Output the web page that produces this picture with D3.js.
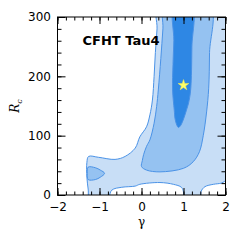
<!DOCTYPE html>
<html>
<head>
<meta charset="utf-8">
<script src="https://cdn.jsdelivr.net/npm/d3@7"></script>
<style>
  body { margin: 0; background: #fff; }
  text { font-family: "DejaVu Sans", sans-serif; }
</style>
</head>
<body>
<script>
// data (gamma, Rc)
var gammaTicks = [-2, -1, 0, 1, 2];
var rcTicks = [0, 100, 200, 300];
var gammaMinor = d3.range(-2, 2.01, 0.2);
var rcMinor = d3.range(0, 301, 20);

var outerContour = [[0.40,320],[2.15,320],[2.15,30],[1.98,23],[1.9,20],[1.71,18],[1.51,14],[1.42,6],
  [1.39,-15],[1.02,-15],[1.0,5],[0.95,13],[0.76,18],[0.44,21],[-0.04,18],[-0.15,15],[-0.47,13],
  [-0.71,8],[-0.83,-15],[-1.22,-15],[-1.27,10],[-1.3,30],[-1.3,55],[-1.26,65],[-1.02,63.5],
  [-0.63,60],[-0.39,65],[-0.15,79],[-0.04,98],[0.12,115],[0.2,135],[0.26,160],[0.3,200],
  [0.33,240],[0.37,280]];
var middleContour = [[0.55,320],[1.63,320],[1.62,240],[1.6,180],[1.55,140],[1.47,100],[1.38,73],
  [1.23,56],[1.0,45],[0.44,39],[0.12,42],[0.0,48],[0.02,58],[0.05,68],[0.12,82],[0.2,93],
  [0.3,121],[0.36,149],[0.40,177],[0.46,230],[0.51,280]];
var blobContour = [[-1.27,47],[-1.1,46],[-0.98,42],[-0.88,36.5],[-0.98,30],[-1.1,26],[-1.27,26],[-1.29,36]];
var innerContour = [[0.78,320],[1.2,320],[1.2,250],[1.17,177],[1.12,155],[1.07,143],[0.99,126],
  [0.92,116],[0.875,114],[0.84,118],[0.8,128],[0.78,143],[0.74,177],[0.75,220],[0.77,260]];
var bestFit = [1.0, 185];

var W = 240, H = 240;
var m = {left: 57.5, right: 14.5, top: 17, bottom: 45};

var svg = d3.select('body').append('svg')
    .attr('width', W)
    .attr('height', H);

var x = d3.scaleLinear().domain([-2, 2]).range([m.left, W - m.right]);
var y = d3.scaleLinear().domain([0, 300]).range([H - m.bottom, m.top]);

svg.append('clipPath').attr('id', 'plot')
  .append('rect')
    .attr('x', x(-2)).attr('y', y(300))
    .attr('width', x(2) - x(-2)).attr('height', y(0) - y(300));

var line = d3.line()
    .x(function(d) { return x(d[0]); })
    .y(function(d) { return y(d[1]); })
    .curve(d3.curveCatmullRomClosed.alpha(0.5));

var g = svg.append('g').attr('clip-path', 'url(#plot)');

var layers = [
  { pts: outerContour, fill: '#c8def6' },
  { pts: middleContour, fill: '#95c2f1' },
  { pts: blobContour, fill: '#95c2f1' },
  { pts: innerContour, fill: '#2e87e4' }
];
layers.forEach(function(l) {
  g.append('path')
    .attr('d', line(l.pts))
    .style('fill', l.fill)
    .style('stroke', '#4a92e6')
    .style('stroke-width', 1);
});

svg.append('path')
    .attr('d', d3.symbol().type(d3.symbolStar).size(36)())
    .attr('transform', 'translate(' + x(bestFit[0]) + ',' + y(bestFit[1]) + ')')
    .style('fill', '#ffff66')
    .style('stroke', '#f2e85a')
    .style('stroke-width', 0.5);

// axes: ticks point inward on all four sides
function ticks(axis, vals, size, pos, label) {
  var a = axis.tickValues(vals).tickSize(-size);
  if (!label) a.tickFormat('');
  var sel = svg.append('g').attr('transform', pos).call(a);
  sel.select('.domain').remove();
  sel.selectAll('line').style('stroke', '#000');
  return sel;
}
var bx = 'translate(0,' + y(0) + ')', tx = 'translate(0,' + y(300) + ')';
var ly = 'translate(' + x(-2) + ',0)', ry = 'translate(' + x(2) + ',0)';

ticks(d3.axisBottom(x), gammaMinor, 3.5, bx, false);
ticks(d3.axisTop(x), gammaMinor, 3.5, tx, false);
ticks(d3.axisLeft(y), rcMinor, 4, ly, false);
ticks(d3.axisRight(y), rcMinor, 4, ry, false);

ticks(d3.axisBottom(x).tickPadding(7).tickFormat(d3.format('d')), gammaTicks, 7, bx, true);
ticks(d3.axisTop(x), gammaTicks, 7, tx, false);
ticks(d3.axisLeft(y).tickPadding(6.5).tickFormat(d3.format('d')), rcTicks, 8, ly, true);
ticks(d3.axisRight(y), rcTicks, 8, ry, false);

svg.selectAll('.tick text')
    .style('font-family', '"DejaVu Sans", sans-serif')
    .style('font-size', '12px')
    .style('fill', '#000');

svg.append('rect')
    .attr('x', x(-2)).attr('y', y(300))
    .attr('width', x(2) - x(-2)).attr('height', y(0) - y(300))
    .style('fill', 'none')
    .style('stroke', '#000')
    .style('stroke-width', 1);

svg.append('text')
    .attr('x', x(-2) + 25)
    .attr('y', 45)
    .style('font-size', '13px')
    .style('font-weight', 'bold')
    .text('CFHT Tau4');

svg.append('text')
    .attr('x', (x(-2) + x(2)) / 2)
    .attr('y', 226)
    .attr('text-anchor', 'middle')
    .style('font-family', '"DejaVu Serif", serif')
    .style('font-size', '12px')
    .text('γ');

var yl = svg.append('text')
    .attr('transform', 'translate(19,' + ((y(0) + y(300)) / 2) + ') rotate(-90)')
    .attr('text-anchor', 'middle')
    .style('font-family', '"DejaVu Serif", serif')
    .style('font-style', 'italic')
    .style('font-size', '12px');
yl.append('tspan').text('R');
yl.append('tspan').attr('dy', 3).style('font-size', '8px').text('c');
</script>
</body>
</html>
